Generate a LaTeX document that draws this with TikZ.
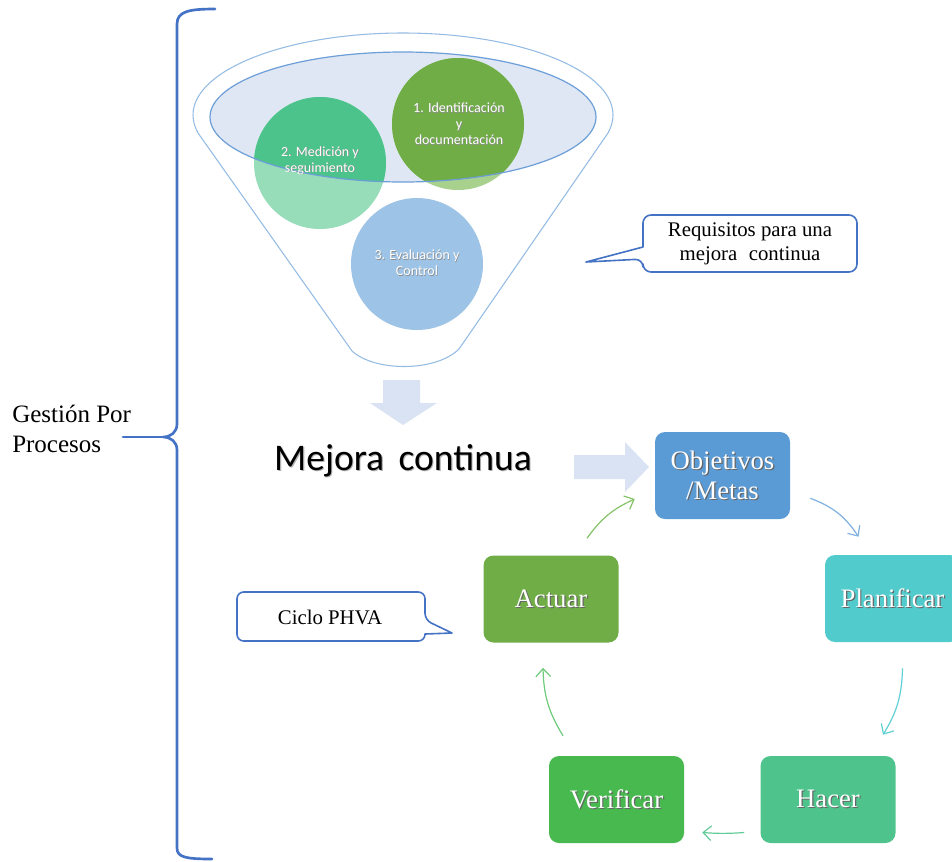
\documentclass[tikz,border=0pt]{standalone}
\usepackage{fontspec}
\setmainfont{Liberation Serif}
\newfontfamily\calibri{Carlito}
\usetikzlibrary{arrows.meta}

\definecolor{braceblue}{HTML}{4472C4}
\definecolor{funnelline}{HTML}{95BCE4}
\definecolor{rimline}{HTML}{6C9ED8}
\definecolor{rimfill}{HTML}{DEE7F3}
\definecolor{idDark}{HTML}{70AD47}
\definecolor{idLight}{HTML}{A9D18E}
\definecolor{medDark}{HTML}{4CC38A}
\definecolor{medLight}{HTML}{98DDBA}
\definecolor{evalBlue}{HTML}{9DC3E6}
\definecolor{blockarrow}{HTML}{DAE3F3}
\definecolor{objFill}{HTML}{5B9BD5}
\definecolor{planFill}{HTML}{52CBCD}
\definecolor{actFill}{HTML}{70AD47}
\definecolor{verFill}{HTML}{47B94E}
\definecolor{hacFill}{HTML}{4EC48C}
\definecolor{arObj}{HTML}{7FB1E1}
\definecolor{arPlan}{HTML}{5FD0D4}
\definecolor{arHac}{HTML}{62CB9A}
\definecolor{arVer}{HTML}{6DCB7B}
\definecolor{arAct}{HTML}{84C267}

% text with a small drop shadow
\newcommand\shd[3][0.9pt]{\leavevmode\rlap{\hspace{#1}\raisebox{-#1}{\color{#2}#3}}#3}

\begin{document}
\begin{tikzpicture}[x=0.75pt,y=-0.75pt,
  bracestyle/.style={draw=braceblue, line width=2pt, line cap=round},
  callout/.style={draw=braceblue, line width=1.2pt, fill=white, line join=round},
  calltext/.style={align=center, inner sep=0pt, font=\fontsize{15.6}{18}\selectfont},
  cycbox/.style={rounded corners=7.5pt, minimum width=101.25pt, minimum height=65.25pt,
    text=white, align=center, inner sep=0pt, font=\fontsize{20}{22.5}\selectfont},
  circtext/.style={align=center, inner sep=0pt, text=white,
    font=\calibri\fontsize{10.5}{12}\selectfont},
  cyc/.style={line width=0.9pt, -{Straight Barb[length=6pt,width=11pt]}},
]
\useasboundingbox (0,0) rectangle (952,861);
\clip (0,0) rectangle (952,861);

% ---- brace and its label ----
\node[align=left, anchor=west, inner sep=0pt, font=\fontsize{18.75}{22.5}\selectfont]
  (gestion) at (12,429) {Gesti\'on Por\\Procesos};
\coordinate (lead) at (123,437);
\coordinate (bracetip) at (163,437);
\draw[bracestyle] (215,9) .. controls (190,9) and (177,11) .. (177,24)
  -- (177,424) .. controls (177,432) and (171,437) .. (bracetip)
  .. controls (171,437) and (177,442) .. (177,450)
  -- (177,848) .. controls (177,857) and (185,859) .. (212,859);
\draw[bracestyle] (lead) -- (bracetip);

% ---- funnel ----
\draw[draw=funnelline, line width=0.8pt, fill=white]
  (193,115) .. controls (193,69.7) and (287,33) .. (403,33)
  .. controls (519,33) and (613,69.7) .. (613,115)
  .. controls (613,122) and (611,127) .. (608,133)
  -- (459,349) .. controls (436,372) and (375,372) .. (352,351)
  -- (198,133) .. controls (195,127) and (193,122) .. cycle;
\fill[rimfill] (403,117) ellipse [x radius=193, y radius=65];

\coordinate (p1) at (458,124);
\coordinate (p2) at (320,163);
\coordinate (p3) at (417,264);
\fill[idLight] (p1) circle [radius=66];
\fill[medLight] (p2) circle [radius=66];
\begin{scope}
  \clip (403,117) ellipse [x radius=193, y radius=65];
  \fill[idDark] (p1) circle [radius=66];
  \fill[medDark] (p2) circle [radius=66];
\end{scope}
\fill[evalBlue] (p3) circle [radius=66];
\draw[rimline, line width=0.9pt] (403,117) ellipse [x radius=193, y radius=65];

\node[circtext] (c1) at (459,124) {\shd[0.5pt]{black!45}{1. Identificaci\'on}\\\shd[0.5pt]{black!45}{y}\\\shd[0.5pt]{black!45}{documentaci\'on}};
\node[circtext] (c2) at (320,161) {\shd[0.5pt]{black!45}{2. Medici\'on y}\\\shd[0.5pt]{black!45}{seguimiento}};
\node[circtext] (c3) at (417,263) {\shd[0.5pt]{black!45}{3. Evaluaci\'on y}\\\shd[0.5pt]{black!45}{Control}};

% ---- callout: requirements ----
\draw[callout] (586,262) -- (643,247) [rounded corners=6pt] -- (643,215) -- (857,215)
  -- (857,272) -- (643,272) -- (643,259) [sharp corners] -- cycle;
\node[calltext] (req) at (750,243.5) {Requisitos para una\\mejora\hspace{0.3em} continua};

% ---- block arrows ----
\fill[blockarrow] (383,380) -- (420,380) -- (420,403) -- (437,403) -- (403,425)
  -- (370,403) -- (383,403) -- cycle;
\fill[blockarrow] (574,455) -- (625,455) -- (625,442) -- (649,467) -- (625,492)
  -- (625,479) -- (574,479) -- cycle;

\node[anchor=base, inner sep=0pt, text=black, font=\calibri\fontsize{28.2}{30}\selectfont]
  (mejora) at (403,470) {\shd[0.8pt]{black!30}{Mejora\hspace{0.38em}continua}};

% ---- PHVA cycle ----
\node[cycbox, fill=objFill] (obj) at (722.5,475.5) {\shd{black!60}{Objetivos}\\\shd{black!60}{/Metas}};
\node[cycbox, fill=planFill] (plan) at (892.5,598.5) {\shd{black!60}{Planificar}};
\node[cycbox, fill=actFill] (actuar) at (551,599) {\shd{black!60}{Actuar}};
\node[cycbox, fill=verFill] (verif) at (616.5,799.5) {\shd{black!60}{Verificar}};
\node[cycbox, fill=hacFill] (hacer) at (828,799.5) {\shd{black!60}{Hacer}};

\draw[cyc, arObj] ([shift={(20,-21)}]obj.south east) to[bend left=18] ([shift={(-34,-18)}]plan.north);
\draw[cyc, arPlan] ([shift={(10,26)}]plan.south) to[bend left=15] ([shift={(55,-21)}]hacer.north);
\draw[cyc, arHac] ([shift={(-16,33)}]hacer.west) to[bend left=4] ([shift={(18,33)}]verif.east);
\draw[cyc, arVer] ([shift={(-53.5,-20)}]verif.north) to[bend left=15] ([shift={(-8,25)}]actuar.south);
\draw[cyc, arAct] ([shift={(36,-17)}]actuar.north) to[bend left=15] ([shift={(-20,23.5)}]obj.west);

% ---- callout: PHVA ----
\draw[callout] (452,633) -- (425,634) [rounded corners=5pt] -- (425,641) -- (237,641)
  -- (237,592) -- (425,592) -- (425,620) [sharp corners] -- cycle;
\node[calltext] (phva) at (330,617) {Ciclo PHVA};
\end{tikzpicture}
\end{document}
